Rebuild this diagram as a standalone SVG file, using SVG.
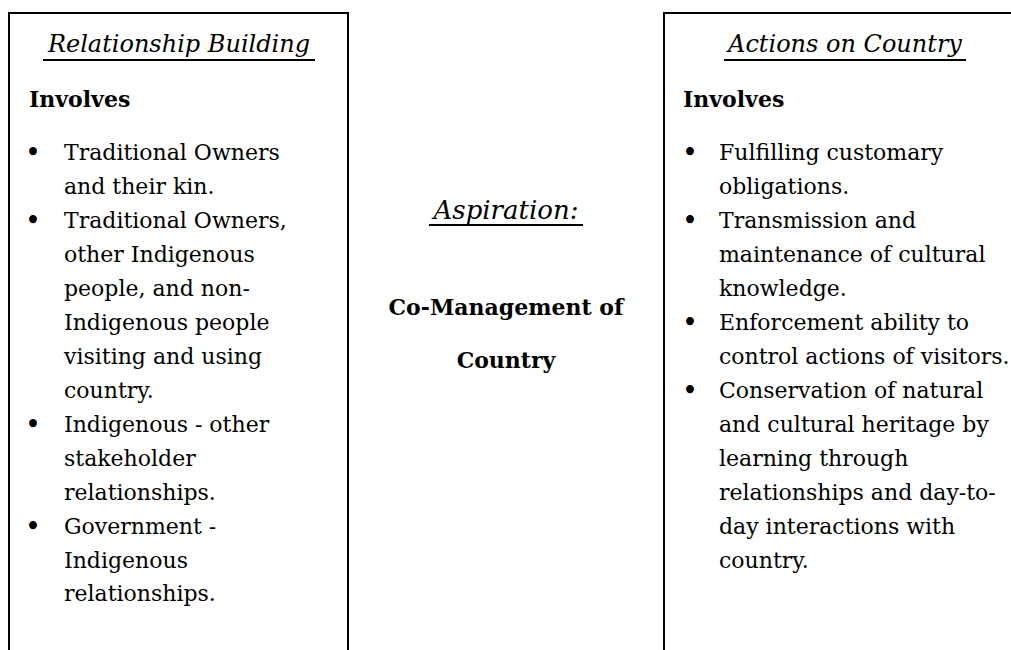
<svg xmlns="http://www.w3.org/2000/svg" width="1011" height="650" viewBox="0 0 1011 650">
<style>
text{font-family:"DejaVu Serif","Liberation Serif",serif;fill:#000}
.h{font-style:italic;font-size:24px;text-anchor:middle}
.b{font-weight:bold;font-size:22px}
.t{font-size:22px}
.bul{font-size:27px;text-anchor:middle}
.box{fill:#fff;stroke:#000;stroke-width:2}
.ul{stroke:#000;stroke-width:2}
.c{font-weight:bold;font-size:22px;text-anchor:middle}
.ci{font-style:italic;font-size:26px;text-anchor:middle}
</style>
<rect width="1011" height="650" fill="#fff"/>
<g id="relationship-building">
<rect class="box" x="9" y="13" width="339" height="660"/>
<text class="h" x="179" y="52">Relationship Building</text>
<line class="ul" x1="43" y1="60" x2="315" y2="60"/>
<text class="b" x="29" y="107">Involves</text>
<text class="bul" x="33" y="162">•</text>
<text class="t" x="64" y="160">Traditional Owners</text>
<text class="t" x="64" y="194">and their kin.</text>
<text class="bul" x="33" y="230">•</text>
<text class="t" x="64" y="228">Traditional Owners,</text>
<text class="t" x="64" y="262">other Indigenous</text>
<text class="t" x="64" y="296">people, and non-</text>
<text class="t" x="64" y="330">Indigenous people</text>
<text class="t" x="64" y="364">visiting and using</text>
<text class="t" x="64" y="398">country.</text>
<text class="bul" x="33" y="434">•</text>
<text class="t" x="64" y="432">Indigenous - other</text>
<text class="t" x="64" y="466">stakeholder</text>
<text class="t" x="64" y="500">relationships.</text>
<text class="bul" x="33" y="536">•</text>
<text class="t" x="64" y="534">Government -</text>
<text class="t" x="64" y="568">Indigenous</text>
<text class="t" x="64" y="601">relationships.</text>
</g>
<g id="aspiration">
<text class="ci" x="506" y="219">Aspiration:</text>
<line class="ul" x1="429" y1="225" x2="583" y2="225"/>
<text class="c" x="506" y="315">Co-Management of</text>
<text class="c" x="506" y="368">Country</text>
</g>
<g id="actions-on-country">
<rect class="box" x="664" y="13" width="380" height="660"/>
<text class="h" x="845" y="52">Actions on Country</text>
<line class="ul" x1="724" y1="60" x2="966" y2="60"/>
<text class="b" x="683" y="107">Involves</text>
<text class="bul" x="690" y="162">•</text>
<text class="t" x="719" y="160">Fulfilling customary</text>
<text class="t" x="719" y="194">obligations.</text>
<text class="bul" x="690" y="230">•</text>
<text class="t" x="719" y="228">Transmission and</text>
<text class="t" x="719" y="262">maintenance of cultural</text>
<text class="t" x="719" y="296">knowledge.</text>
<text class="bul" x="690" y="332">•</text>
<text class="t" x="719" y="330">Enforcement ability to</text>
<text class="t" x="719" y="364">control actions of visitors.</text>
<text class="bul" x="690" y="400">•</text>
<text class="t" x="719" y="398">Conservation of natural</text>
<text class="t" x="719" y="432">and cultural heritage by</text>
<text class="t" x="719" y="466">learning through</text>
<text class="t" x="719" y="500">relationships and day-to-</text>
<text class="t" x="719" y="534">day interactions with</text>
<text class="t" x="719" y="568">country.</text>
</g>
<g id="connectors"></g>
</svg>
